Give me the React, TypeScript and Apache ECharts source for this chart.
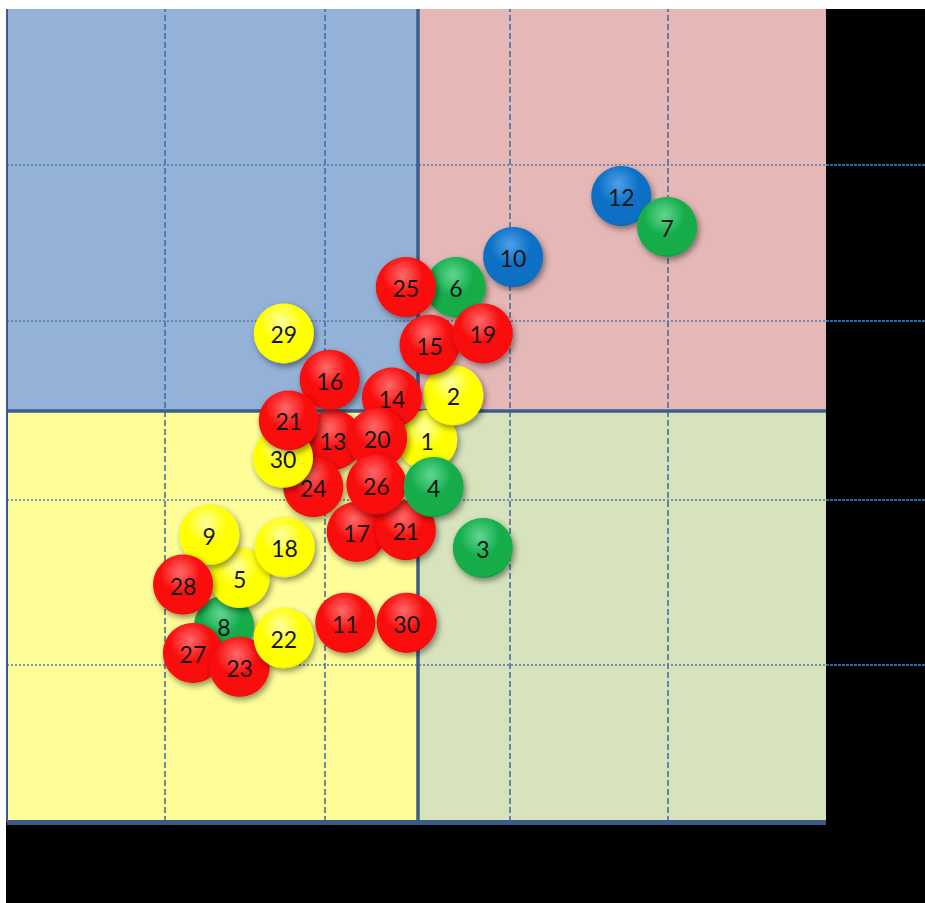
import React, { useEffect, useRef } from "react";
import * as echarts from "echarts";

// Bubble labels, positions (0-100 scales) and colour groups, in drawing order (back to front)
const labels = [13, 1, 8, 5, 12, 7, 10, 6, 25, 2, 15, 19, 29, 16, 24, 30, 21, 14, 20, 17, 21, 26, 4, 3, 9, 18, 28, 27, 23, 22, 11, 30];
const xValues = [39.8, 51.3, 26.5, 28.4, 75.0, 80.6, 61.8, 54.8, 48.7, 54.5, 51.6, 58.1, 33.8, 39.4, 37.4, 33.7, 34.4, 47.0, 45.2, 42.7, 48.7, 45.1, 52.1, 58.1, 24.7, 33.9, 21.5, 22.7, 28.4, 33.8, 41.3, 48.8];
const yValues = [47.0, 47.0, 24.1, 30.0, 77.0, 73.2, 69.5, 65.8, 65.8, 52.5, 58.7, 60.1, 60.1, 54.4, 41.2, 44.8, 49.4, 52.2, 47.2, 35.7, 35.9, 41.5, 41.2, 33.7, 35.3, 33.8, 29.2, 20.8, 19.1, 22.6, 24.5, 24.5];
const groups = ["red", "yellow", "green", "yellow", "blue", "green", "blue", "green", "red", "yellow", "red", "red", "yellow", "red", "red", "yellow", "red", "red", "red", "red", "red", "red", "green", "green", "yellow", "yellow", "red", "red", "red", "yellow", "red", "red"];

// Grid / quadrant positions in axis units
const xGridLines = [19.3, 38.8, 61.4, 80.7];
const yGridLines = [19.3, 39.6, 61.6, 80.8];
const xSplit = 50.1;
const ySplit = 50.6;
const plotMax = 100;
const xViewMax = 112.09;

const palette: Record<string, [string, string, string]> = {
  red: ["#ff6a6a", "#fa0a0a", "#c00000"],
  yellow: ["#ffffa0", "#ffff00", "#cccc00"],
  green: ["#62d690", "#12ad4a", "#007a30"],
  blue: ["#509fe8", "#0a70c4", "#004a8a"],
};

export default function App() {
  const ref = useRef<HTMLDivElement>(null);
  useEffect(() => {
    if (!ref.current) return;
    const chart = echarts.init(ref.current, undefined, { renderer: "svg" });

    const lineData: any[] = [];
    xGridLines.forEach((v) =>
      lineData.push([
        { coord: [v, 0], lineStyle: { color: "#4a6da2", width: 1.6, type: [6, 3] } },
        { coord: [v, plotMax] },
      ])
    );
    yGridLines.forEach((v) => {
      lineData.push([
        { coord: [0, v], lineStyle: { color: "#5374a8", width: 1.6, type: [2, 2] } },
        { coord: [plotMax, v] },
      ]);
      lineData.push([
        { coord: [plotMax, v], lineStyle: { color: "#3a8fdc", width: 1.6, type: [3, 1] } },
        { coord: [xViewMax, v] },
      ]);
    });
    lineData.push([
      { coord: [xSplit, 0], lineStyle: { color: "#3d5d8a", width: 3.5, type: "solid" } },
      { coord: [xSplit, plotMax] },
    ]);
    lineData.push([
      { coord: [0, ySplit], lineStyle: { color: "#3d5d8a", width: 3.5, type: "solid" } },
      { coord: [plotMax, ySplit] },
    ]);
    lineData.push([
      { coord: [0, 0], lineStyle: { color: "#3c5a87", width: 5, type: "solid" } },
      { coord: [plotMax, 0] },
    ]);
    lineData.push([
      { coord: [0, 0], lineStyle: { color: "#3c5a87", width: 2, type: "solid" } },
      { coord: [0, plotMax] },
    ]);

    const data = labels.map((l, i) => [xValues[i], yValues[i], l]);

    chart.setOption({
      animation: false,
      backgroundColor: "#000000",
      grid: { left: 1, right: 0, top: 0, bottom: 81 },
      xAxis: {
        type: "value",
        min: 0,
        max: xViewMax,
        axisLine: { show: false },
        axisTick: { show: false },
        axisLabel: { show: false },
        splitLine: { show: false },
      },
      yAxis: {
        type: "value",
        min: 0,
        max: plotMax,
        axisLine: { show: false },
        axisTick: { show: false },
        axisLabel: { show: false },
        splitLine: { show: false },
      },
      series: [
        {
          type: "scatter",
          data: [],
          clip: false,
          z: 1,
          silent: true,
          markArea: {
            silent: true,
            z: 0,
            data: [
              [{ coord: [0, ySplit], itemStyle: { color: "#94b2d7" } }, { coord: [xSplit, plotMax] }],
              [{ coord: [xSplit, ySplit], itemStyle: { color: "#e5b8b7" } }, { coord: [plotMax, plotMax] }],
              [{ coord: [0, 0], itemStyle: { color: "#fefe99" } }, { coord: [xSplit, ySplit] }],
              [{ coord: [xSplit, 0], itemStyle: { color: "#d7e3bd" } }, { coord: [plotMax, ySplit] }],
            ],
          },
          markLine: {
            silent: true,
            z: 1,
            symbol: ["none", "none"],
            label: { show: false },
            data: lineData,
          },
        },
        {
          type: "custom",
          z: 10,
          clip: false,
          data,
          renderItem: (params: any, api: any) => {
            const i = params.dataIndex;
            const pt = api.coord([api.value(0), api.value(1)]);
            const c = palette[groups[i]];
            const r = 30;
            return {
              type: "group",
              children: [
                {
                  type: "circle",
                  shape: { cx: pt[0], cy: pt[1], r },
                  style: {
                    fill: new echarts.graphic.RadialGradient(0.45, 0.3, 0.78, [
                      { offset: 0, color: c[0] },
                      { offset: 0.45, color: c[1] },
                      { offset: 0.85, color: c[1] },
                      { offset: 1, color: c[2] },
                    ]),
                    shadowBlur: 6,
                    shadowColor: "rgba(0,0,0,0.45)",
                    shadowOffsetX: 2,
                    shadowOffsetY: 3,
                  },
                },
                {
                  type: "text",
                  style: {
                    x: pt[0],
                    y: pt[1] + 1,
                    text: String(labels[i]),
                    fill: "#161616",
                    font: "23px Lato",
                    align: "center",
                    verticalAlign: "middle",
                  },
                },
              ],
            };
          },
        },
      ],
    });
    return () => chart.dispose();
  }, []);
  return (
    <div
      ref={ref}
      style={{ position: "absolute", left: 6, top: 9, width: 919, height: 894, background: "#000" }}
    />
  );
}
